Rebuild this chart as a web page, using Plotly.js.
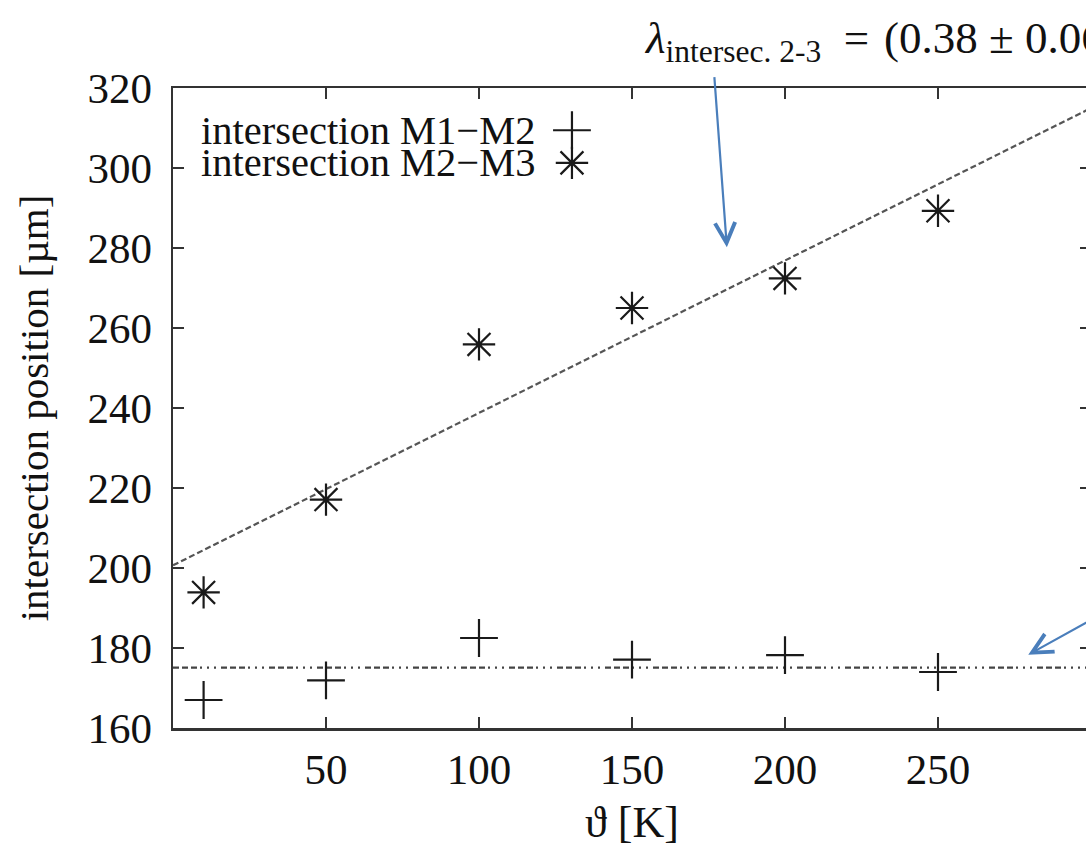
<!DOCTYPE html>
<html>
<head>
<meta charset="utf-8">
<script src="https://cdn.plot.ly/plotly-3.0.1.min.js"></script>
<style>
  html, body { margin: 0; padding: 0; overflow: hidden; background: #fff; }
  #plot { width: 1300px; height: 847px; }
</style>
</head>
<body>
<div id="plot"></div>
<script>
// Temperatures (K) and intersection positions (µm)
const temperatures = [10, 50, 100, 150, 200, 250];
const intersectionM1M2 = [167.0, 171.9, 182.5, 177.1, 178.2, 174.0];
const intersectionM2M3 = [193.9, 217.1, 255.9, 265.0, 272.4, 289.3];
const seriesNames = ['intersection M1\u2212M2', 'intersection M2\u2212M3'];
const xTickValues = [50, 100, 150, 200, 250];
const yTickValues = [160, 180, 200, 220, 240, 260, 280, 300, 320];
const xRange = [0, 300];
const yRange = [160, 320];
const slopeError = 0.06;

// Least-squares straight line through the M2–M3 points
function linearFit(xs, ys) {
  const n = xs.length;
  const mx = xs.reduce((a, b) => a + b, 0) / n;
  const my = ys.reduce((a, b) => a + b, 0) / n;
  let sxy = 0, sxx = 0;
  for (let i = 0; i < n; i++) {
    sxy += (xs[i] - mx) * (ys[i] - my);
    sxx += (xs[i] - mx) * (xs[i] - mx);
  }
  const slope = sxy / sxx;
  return { slope: slope, intercept: my - slope * mx };
}
const fit23 = linearFit(temperatures, intersectionM2M3);
// M1–M2 is flat: constant at its mean
const mean12 = intersectionM1M2.reduce((a, b) => a + b, 0) / intersectionM1M2.length;

const serif = 'Liberation Serif, Times New Roman, serif';
const ink = '#1a1a1a';
const axisInk = '#333';
const arrowBlue = '#4a7ebb';

const traces = [
  {
    x: xRange, y: xRange.map(t => fit23.intercept + fit23.slope * t),
    mode: 'lines', showlegend: false, hoverinfo: 'skip',
    line: { color: '#555', width: 2.2, dash: '6px,3px' }
  },
  {
    x: xRange, y: xRange.map(() => mean12),
    mode: 'lines', showlegend: false, hoverinfo: 'skip',
    line: { color: '#444', width: 2.2, dash: '6px,3px,6px,3px,6px,3px,2px,5px,2px,5px,2px,5px' }
  },
  {
    x: temperatures, y: intersectionM1M2, name: seriesNames[0],
    mode: 'markers', showlegend: false,
    marker: { symbol: 'cross-thin-open', size: 27, color: ink, line: { color: ink, width: 2.2 } }
  },
  {
    x: temperatures, y: intersectionM2M3, name: seriesNames[1],
    mode: 'markers', showlegend: false,
    marker: { symbol: 'asterisk-open', size: 27, color: ink, line: { color: ink, width: 2.2 } }
  },
  // key symbols, placed on a unit overlay axis next to the key labels
  {
    x: [0.4346], y: [0.934], xaxis: 'x2', yaxis: 'y2',
    mode: 'markers', showlegend: false, hoverinfo: 'skip',
    marker: { symbol: 'cross-thin-open', size: 27, color: ink, line: { color: ink, width: 2.2 } }
  },
  {
    x: [0.4346], y: [0.883], xaxis: 'x2', yaxis: 'y2',
    mode: 'markers', showlegend: false, hoverinfo: 'skip',
    marker: { symbol: 'asterisk-open', size: 27, color: ink, line: { color: ink, width: 2.2 } }
  }
];

const axisCommon = {
  showgrid: false, zeroline: false,
  showline: true, linecolor: axisInk, linewidth: 2.5,
  mirror: 'allticks', ticks: 'inside', ticklen: 11, tickwidth: 2, tickcolor: axisInk,
  tickfont: { family: serif, size: 43, color: '#111' }
};

const layout = {
  width: 1300, height: 847,
  margin: { l: 173, r: 209, t: 88, b: 119 },
  paper_bgcolor: '#fff', plot_bgcolor: '#fff',
  font: { family: serif, color: '#111' },
  showlegend: false,
  xaxis: Object.assign({}, axisCommon, {
    range: xRange, tickmode: 'array', tickvals: xTickValues,
    ticklabelstandoff: 2,
    title: { text: '\u03d1 [K]', font: { family: serif, size: 44, color: '#111' }, standoff: 14 }
  }),
  yaxis: Object.assign({}, axisCommon, {
    range: yRange, tickmode: 'array', tickvals: yTickValues,
    ticklabelstandoff: 10,
    title: { text: 'intersection position [\u00b5m]', font: { family: serif, size: 41, color: '#111' }, standoff: 26 }
  }),
  xaxis2: { overlaying: 'x', range: [0, 1], visible: false },
  yaxis2: { overlaying: 'y', range: [0, 1], visible: false },
  annotations: [
    {
      xref: 'paper', yref: 'paper', x: 0.511, y: 1.074, xanchor: 'left', yanchor: 'middle',
      showarrow: false,
      text: '<i>\u03bb</i><sub>intersec. 2-3</sub>\u2002=\u2004(' + fit23.slope.toFixed(2) + ' \u00b1 ' + slopeError.toFixed(2) + ') \u00b5m/K',
      font: { family: serif, size: 45, color: '#111' }
    },
    {
      xref: 'x', yref: 'y', x: 181, y: 280.2, ax: -13, ay: -177,
      text: ' ', font: { size: 10 }, showarrow: true,
      arrowhead: 5, arrowsize: 1.8, arrowwidth: 2.2, arrowcolor: arrowBlue, standoff: 0
    },
    {
      xref: 'x', yref: 'y', x: 279.5, y: mean12 + 3.2, ax: 110, ay: -61,
      text: ' ', font: { size: 10 }, showarrow: true,
      arrowhead: 5, arrowsize: 1.8, arrowwidth: 2.2, arrowcolor: arrowBlue, standoff: 0
    },
    {
      xref: 'paper', yref: 'paper', x: 0.396, y: 0.934, xanchor: 'right', yanchor: 'middle',
      showarrow: false, text: seriesNames[0],
      font: { family: serif, size: 40.5, color: '#111' }
    },
    {
      xref: 'paper', yref: 'paper', x: 0.396, y: 0.883, xanchor: 'right', yanchor: 'middle',
      showarrow: false, text: seriesNames[1],
      font: { family: serif, size: 40.5, color: '#111' }
    }
  ]
};

Plotly.newPlot('plot', traces, layout, { staticPlot: true, displayModeBar: false });
</script>
</body>
</html>
